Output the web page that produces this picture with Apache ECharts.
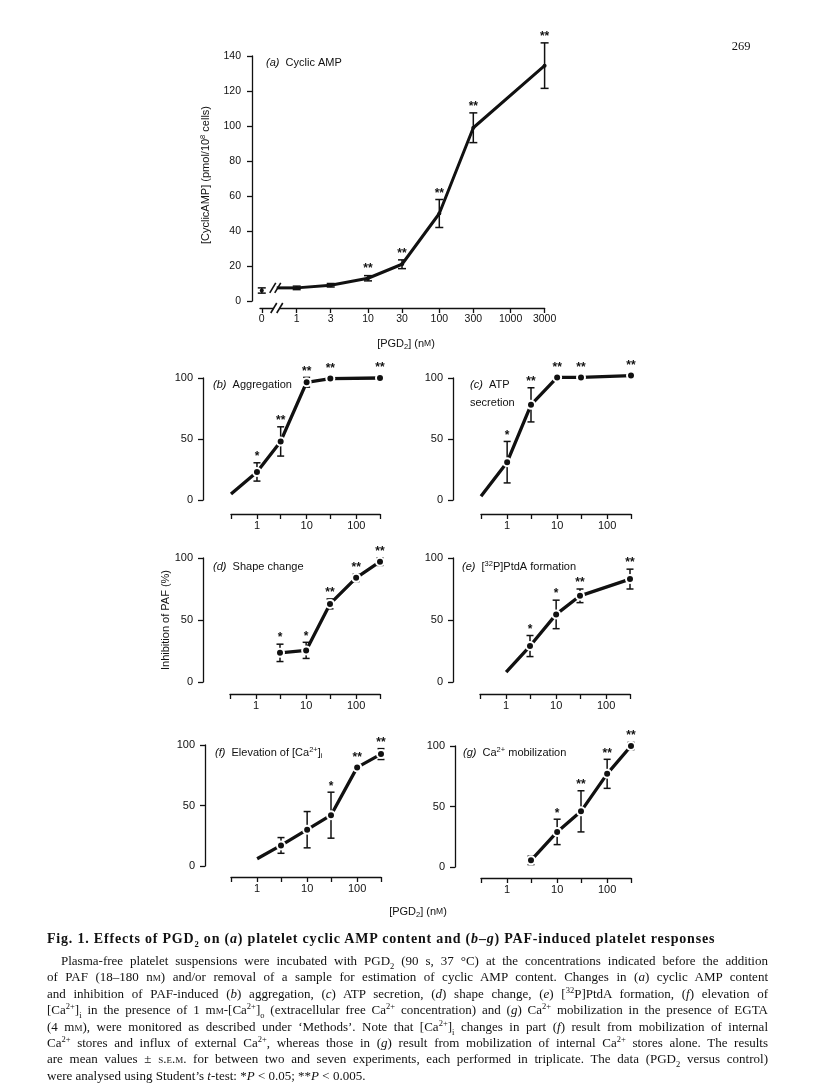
<!DOCTYPE html>
<html><head><meta charset="utf-8">
<script src="https://cdn.jsdelivr.net/npm/echarts@6/dist/echarts.min.js"></script>
<style>
html,body{margin:0;padding:0;background:#fff;}
#chart{position:absolute;left:0;top:0;width:816px;height:1091px;}
#cap{position:absolute;left:47px;top:931px;width:721px;font-family:"Liberation Serif","Times New Roman",serif;color:#111;}
#cap .t{font-weight:bold;font-size:14px;letter-spacing:0.8px;line-height:16px;white-space:nowrap;margin-bottom:6px;}
#cap .ln{font-size:13px;line-height:16.4px;height:16.4px;text-align:justify;text-align-last:justify;white-space:normal;overflow:visible;}
#cap .ln.last{text-align-last:left;}
#cap .ind{text-indent:14px;}
.sc{font-variant:small-caps;}
sub,sup{font-size:8.5px;line-height:0;}
</style>
</head><body>
<div id="chart"></div>
<div id="cap">
<div class="t">Fig. 1. Effects of PGD<sub>2</sub> on (<i>a</i>) platelet cyclic AMP content and (<i>b</i>–<i>g</i>) PAF-induced platelet responses</div>
<div class="ln ind">Plasma-free platelet suspensions were incubated with PGD<sub>2</sub> (90 s, 37 °C) at the concentrations indicated before the addition</div>
<div class="ln">of PAF (18–180 n<span class="sc">m</span>) and/or removal of a sample for estimation of cyclic AMP content. Changes in (<i>a</i>) cyclic AMP content</div>
<div class="ln">and inhibition of PAF-induced (<i>b</i>) aggregation, (<i>c</i>) ATP secretion, (<i>d</i>) shape change, (<i>e</i>) [<sup>32</sup>P]PtdA formation, (<i>f</i>) elevation of</div>
<div class="ln">[Ca<sup>2+</sup>]<sub>i</sub> in the presence of 1 m<span class="sc">m</span>-[Ca<sup>2+</sup>]<sub>o</sub> (extracellular free Ca<sup>2+</sup> concentration) and (<i>g</i>) Ca<sup>2+</sup> mobilization in the presence of EGTA</div>
<div class="ln">(4 m<span class="sc">m</span>), were monitored as described under ‘Methods’. Note that [Ca<sup>2+</sup>]<sub>i</sub> changes in part (<i>f</i>) result from mobilization of internal</div>
<div class="ln">Ca<sup>2+</sup> stores and influx of external Ca<sup>2+</sup>, whereas those in (<i>g</i>) result from mobilization of internal Ca<sup>2+</sup> stores alone. The results</div>
<div class="ln">are mean values ± <span class="sc">s.e.m.</span> for between two and seven experiments, each performed in triplicate. The data (PGD<sub>2</sub> versus control)</div>
<div class="ln last">were analysed using Student’s <i>t</i>-test: *<i>P</i> &lt; 0.05; **<i>P</i> &lt; 0.005.</div>
</div>
<script>
// ---------- DATA ----------
// (a) cyclic AMP
const concA = [0, 1, 3, 10, 30, 100, 300, 3000];
const campMean = [6, 7.5, 9, 13, 21, 50, 99, 134.5];
const campSem = [1.5, 1, 1, 1.5, 2.5, 8, 8.5, 13];
const campSig = ['', '', '', '**', '**', '**', '**', '**'];
const tickConcA = [0, 1, 3, 10, 30, 100, 300, 1000, 3000];
const tickLabelsA = ['0', '1', '3', '10', '30', '100', '300', '1000', '3000'];
// (b) aggregation
const concB = [1, 3, 10, 30, 300];
const aggMean = [23, 48, 96.5, 99.5, 100];
const aggSem = [7.5, 12, 4, 0, 0];
const aggSig = ['*', '**', '**', '**', '**'];
const aggLineStart = [0.3, 5];
// (c) ATP secretion
const concC = [1, 3, 10, 30, 300];
const atpMean = [31, 78, 100.5, 100.5, 102];
const atpSem = [17, 14, 0, 0, 0];
const atpSig = ['*', '**', '**', '**', '**'];
const atpLineStart = [0.3, 3];
// (d) shape change
const concD = [3, 10, 30, 100, 300];
const shapeMean = [23.5, 25.5, 63, 84, 97];
const shapeSem = [7, 6.5, 4, 3, 3];
const shapeSig = ['*', '*', '**', '**', '**'];
// (e) [32P]PtdA formation
const concE = [3, 10, 30, 300];
const ptdaMean = [29, 54.5, 69.5, 83];
const ptdaSem = [8.5, 11.5, 5.5, 8];
const ptdaSig = ['*', '*', '**', '**'];
const ptdaLineStart = [1, 8];
// (f) elevation of [Ca2+]i
const concF = [3, 10, 30, 100, 300];
const caElevMean = [17, 30, 42, 81.5, 92.5];
const caElevSem = [6.5, 15, 19, 0, 4.5];
const caElevSig = ['', '', '*', '**', '**'];
const caElevLineStart = [1, 6];
// (g) Ca2+ mobilization
const concG = [3, 10, 30, 100, 300];
const caMobMean = [5.5, 29, 46, 77, 100];
const caMobSem = [3.5, 10.5, 17, 12, 3];
const caMobSig = ['', '*', '**', '**', '**'];
// shared log axis of panels b-g
const tickConcBG = [0.3, 1, 3, 10, 30, 100, 300];
const labelConcBG = [1, 10, 100];

// ---------- scales / layout ----------
const ZERO_POS = -0.49;   // axis position used for the "0" concentration (left of the break)
const BREAK_POS = -0.28;  // where the axis break is drawn
const lg = Math.log10;
const xvA = c => c === 0 ? ZERO_POS : lg(c);
const INK = '#111';
const SANS = '"Liberation Sans", Arial, Helvetica, sans-serif';

const grids = [
  {left: 260, top: 56, width: 284.6, height: 245},
  {left: 231, top: 378, width: 149, height: 122},
  {left: 481, top: 378, width: 150, height: 122},
  {left: 230, top: 558, width: 150, height: 124},
  {left: 480, top: 558, width: 150, height: 124},
  {left: 231, top: 745, width: 150, height: 121},
  {left: 481, top: 746, width: 150, height: 121}
];
const yOff = [8, 28, 28, 27, 27, 26, 26];
const xOff = [7, 14, 14, 12, 12, 11, 11];

const axisLineStyle = {color: INK, width: 1.3};
const xAxes = [], yAxes = [];
grids.forEach((g, i) => {
  const isA = i === 0;
  const tickVals = isA ? tickConcA.map(xvA) : tickConcBG.map(lg);
  const labVals = isA ? tickConcA.map(xvA) : labelConcBG.map(lg);
  xAxes.push({
    type: 'value', gridIndex: i, position: 'bottom', offset: xOff[i],
    min: isA ? -0.515 : lg(0.3), max: isA ? lg(3000) : lg(300),
    splitLine: {show: false},
    axisLine: {show: true, onZero: false, lineStyle: axisLineStyle},
    axisTick: {show: true, length: 5, customValues: tickVals, lineStyle: axisLineStyle},
    axisLabel: {
      show: true, customValues: labVals, color: INK, fontSize: isA ? 10.5 : 11, fontFamily: SANS, margin: 6,
      formatter: v => {
        if (isA) {
          const k = tickVals.findIndex(t => Math.abs(t - v) < 1e-6);
          return k >= 0 ? tickLabelsA[k] : '';
        }
        return String(Math.round(Math.pow(10, v)));
      }
    }
  });
  yAxes.push({
    type: 'value', gridIndex: i, position: 'left', offset: yOff[i],
    min: 0, max: isA ? 140 : 100, interval: isA ? 20 : 50,
    splitLine: {show: false},
    axisLine: {show: true, onZero: false, lineStyle: axisLineStyle},
    axisTick: {show: true, length: 5, lineStyle: axisLineStyle},
    axisLabel: {color: INK, fontSize: isA ? 10.5 : 11, fontFamily: SANS, margin: isA ? 11 : 10}
  });
});

function errSeries(i, xs, mean, sem, cap) {
  return {
    type: 'custom', xAxisIndex: i, yAxisIndex: i, z: 3, clip: false,
    data: xs.map((x, k) => [x, mean[k], sem[k]]),
    renderItem(params, api) {
      const x = api.value(0), m = api.value(1), s = api.value(2);
      if (!s) return {type: 'group', children: []};
      const t = api.coord([x, m + s]), b = api.coord([x, m - s]);
      const st = {stroke: INK, lineWidth: 1.5};
      return {type: 'group', children: [
        {type: 'line', shape: {x1: t[0], y1: t[1], x2: b[0], y2: b[1]}, style: st},
        {type: 'line', shape: {x1: t[0] - cap, y1: t[1], x2: t[0] + cap, y2: t[1]}, style: st},
        {type: 'line', shape: {x1: b[0] - cap, y1: b[1], x2: b[0] + cap, y2: b[1]}, style: st}
      ]};
    }
  };
}
function sigSeries(i, xs, mean, sem, sig) {
  return {
    type: 'custom', xAxisIndex: i, yAxisIndex: i, z: 5, clip: false,
    data: xs.map((x, k) => [x, mean[k], sem[k], k]),
    renderItem(params, api) {
      const x = api.value(0), m = api.value(1), s = api.value(2), k = api.value(3);
      const txt = sig[k];
      if (!txt) return {type: 'group', children: []};
      const pt = api.coord([x, m + s]);
      const pm = api.coord([x, m]);
      const y = Math.min(pt[1], pm[1] - 4);
      return {type: 'text', x: pt[0], y: y,
        style: {text: txt, fill: INK, font: 'bold 12px ' + SANS, align: 'center', verticalAlign: 'bottom',
                textAlign: 'center', textVerticalAlign: 'bottom'}};
    }
  };
}
function panelSeries(i, conc, mean, sem, sig, lineStart, opt) {
  const xf = opt.xf || lg;
  const xs = conc.map(xf);
  const pts = xs.map((x, k) => [x, mean[k]]);
  const linePts = (opt.lineFrom ? pts.slice(opt.lineFrom) : pts.slice());
  if (lineStart) linePts.unshift([xf(lineStart[0]), lineStart[1]]);
  return [
    {type: 'line', xAxisIndex: i, yAxisIndex: i, z: 2, clip: false, data: linePts, symbol: 'none',
     lineStyle: {color: INK, width: opt.lw || 3.3}, silent: true},
    errSeries(i, xs, mean, sem, opt.cap || 3.5),
    {type: 'scatter', xAxisIndex: i, yAxisIndex: i, z: 4, clip: false, data: pts,
     symbol: 'circle', symbolSize: opt.ms || 8,
     itemStyle: {color: INK, borderColor: '#fff', borderWidth: opt.mb === undefined ? 2 : opt.mb, opacity: 1}},
    sigSeries(i, xs, mean, sem, sig)
  ];
}

const breakSeries = {
  type: 'custom', xAxisIndex: 0, yAxisIndex: 0, z: 6, clip: false,
  data: [[BREAK_POS, campMean[1]]],
  renderItem(params, api) {
    const xb = api.coord([BREAK_POS, 0])[0];
    const axisY = api.coord([0, 0])[1] + xOff[0];
    const p1 = api.coord([xvA(concA[1]), campMean[1]]);
    const st = {stroke: INK, lineWidth: 1.6};
    const slash = (cx, cy) => ({type: 'line', shape: {x1: cx - 3, y1: cy + 5, x2: cx + 3, y2: cy - 5}, style: st});
    return {type: 'group', children: [
      {type: 'rect', shape: {x: xb - 3, y: axisY - 3, width: 6, height: 6}, style: {fill: '#fff'}},
      slash(xb - 3, axisY), slash(xb + 3, axisY),
      {type: 'line', shape: {x1: xb, y1: p1[1], x2: p1[0], y2: p1[1]}, style: {stroke: INK, lineWidth: 3}},
      slash(xb - 4, p1[1]), slash(xb + 1, p1[1])
    ]};
  }
};

const series = [].concat(
  panelSeries(0, concA, campMean, campSem, campSig, null, {xf: xvA, lineFrom: 1, lw: 3, cap: 4, ms: 4, mb: 0}),
  [breakSeries],
  panelSeries(1, concB, aggMean, aggSem, aggSig, aggLineStart, {}),
  panelSeries(2, concC, atpMean, atpSem, atpSig, atpLineStart, {}),
  panelSeries(3, concD, shapeMean, shapeSem, shapeSig, null, {}),
  panelSeries(4, concE, ptdaMean, ptdaSem, ptdaSig, ptdaLineStart, {}),
  panelSeries(5, concF, caElevMean, caElevSem, caElevSig, caElevLineStart, {}),
  panelSeries(6, concG, caMobMean, caMobSem, caMobSig, null, {})
);

const rich = {
  i: {fontStyle: 'italic', fontSize: 11, fontFamily: SANS, fill: INK, lineHeight: 14},
  n: {fontSize: 11, fontFamily: SANS, fill: INK, lineHeight: 14},
  sup: {fontSize: 7.5, fontFamily: SANS, fill: INK, verticalAlign: 'top', lineHeight: 14},
  sub: {fontSize: 7.5, fontFamily: SANS, fill: INK, verticalAlign: 'bottom', lineHeight: 12},
  sc: {fontSize: 8.5, fontFamily: SANS, fill: INK, lineHeight: 14}
};
function label(x, y, text, extra) {
  return Object.assign({type: 'text', x: x, y: y, silent: true,
    style: {text: text, rich: rich, fill: INK, font: '11px ' + SANS, align: 'left', verticalAlign: 'middle'}}, extra || {});
}
const axisTitle = '{n|[PGD}{sub|2}{n|] (n}{sc|M}{n|)}';

const graphic = [
  {type: 'text', x: 741, y: 47, silent: true,
   style: {text: '269', fill: INK, font: '12.5px "Liberation Serif", serif', align: 'center', verticalAlign: 'middle'}},
  label(266, 63, '{i|(a)}{n|  Cyclic AMP}'),
  label(213, 385, '{i|(b)}{n|  Aggregation}'),
  label(470, 385, '{i|(c)}{n|  ATP}'),
  label(470, 403, '{n|secretion}'),
  label(213, 567, '{i|(d)}{n|  Shape change}'),
  label(462, 567, '{i|(e)}{n|  [}{sup|32}{n|P]PtdA formation}'),
  label(215, 753, '{i|(f)}{n|  Elevation of [Ca}{sup|2+}{n|]}{sub|i}'),
  label(463, 753, '{i|(g)}{n|  Ca}{sup|2+}{n| mobilization}'),
  label(406, 344, '', {style: {text: axisTitle, rich: rich, align: 'center', verticalAlign: 'middle'}}),
  label(418, 912, '', {style: {text: axisTitle, rich: rich, align: 'center', verticalAlign: 'middle'}}),
  label(206, 175, '', {rotation: Math.PI / 2, style: {text: '{n|[CyclicAMP] (pmol/10}{sup|8}{n| cells)}', rich: rich, align: 'center', verticalAlign: 'middle'}}),
  label(166, 620, '', {rotation: Math.PI / 2, style: {text: '{n|Inhibition of PAF (%)}', rich: rich, align: 'center', verticalAlign: 'middle'}})
];

const chart = echarts.init(document.getElementById('chart'), null, {renderer: 'canvas'});
chart.setOption({
  animation: false,
  backgroundColor: '#fff',
  grid: grids.map(g => Object.assign({containLabel: false}, g)),
  xAxis: xAxes,
  yAxis: yAxes,
  series: series,
  graphic: graphic
});
</script>
</body></html>
